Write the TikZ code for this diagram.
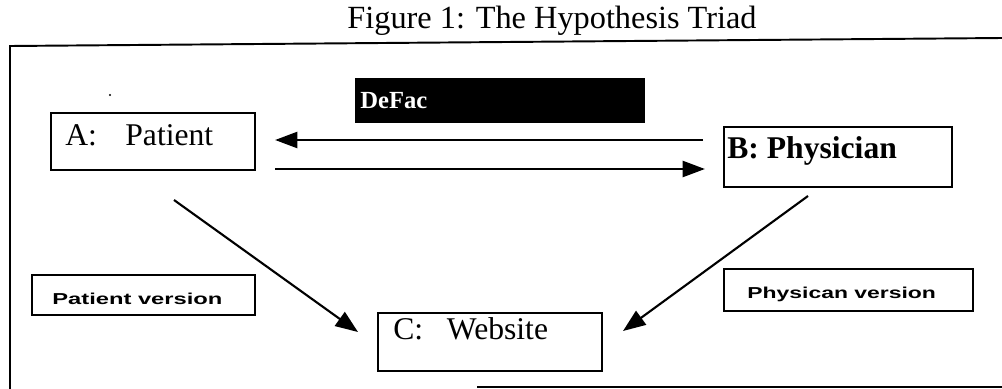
\documentclass[tikz,border=0pt]{standalone}
\usepackage{fontspec}
\setmainfont{Liberation Serif}
\newfontfamily\labelsans{Liberation Sans}
\usetikzlibrary{arrows.meta}
\tikzset{
  framebox/.style={draw, line width=1pt},
  lbl/.style={anchor=base west, inner sep=0pt, font=\fontsize{18}{20}\selectfont},
  verlbl/.style={anchor=base west, inner sep=0pt, font=\labelsans\bfseries\fontsize{9}{10}\selectfont},
  conn/.style={line width=1.2pt, -{Triangle[length=0.45cm,width=0.34cm]}},
  hconn/.style={line width=1.6pt, -{Triangle[length=0.45cm,width=0.32cm]}},
}
\begin{document}
\begin{tikzpicture}[x=0.02cm,y=-0.02cm]
\useasboundingbox (0,0) rectangle (1002,389);
% title
\node[anchor=base, inner sep=0pt, font=\fontsize{18.4}{20}\selectfont] (title) at (552,28) {Figure 1: The Hypothesis Triad};
% outer frame
\draw[line width=1.1pt] (1002,38) -- (10,46) -- (10,389);
\draw[line width=1.6pt] (477,387) -- (1002,387);
% stray dot
\fill (110,95) circle (1.2);
% black banner
\fill (355,78) rectangle (645,123);
\node[anchor=base west, inner sep=0pt, text=white, font=\bfseries\fontsize{14}{14}\selectfont] (banner) at (360,108) {DeFac};
% boxes
\draw[framebox] (51,113) rectangle (255,170);
\node[lbl] (A) at (65,145) {A:\hspace{0.9em}Patient};
\draw[framebox] (724,127) rectangle (952,187);
\node[lbl, font=\bfseries\fontsize{18}{20}\selectfont] (B) at (727,158) {B: Physician};
\draw[framebox] (378,313) rectangle (602,371);
\node[lbl] (C) at (393,339) {C:\hspace{0.75em}Website};
\draw[framebox] (32,275) rectangle (255,315);
\node[verlbl] (pv) at (52,304) {\scalebox{1.5}[1]{Patient version}};
\draw[framebox] (724,269) rectangle (973,311);
\node[verlbl] (dv) at (747,298) {\scalebox{1.45}[1]{Physican version}};
% connector ends
\coordinate (ba0) at (703,140);
\coordinate (ba1) at (275,140);
\coordinate (ab0) at (275,169);
\coordinate (ab1) at (705,169);
\coordinate (ac0) at (174,200);
\coordinate (ac1) at (358,332);
\coordinate (bc0) at (808,196);
\coordinate (bc1) at (623,331);
\draw[hconn] (ba0) -- (ba1);
\draw[hconn] (ab0) -- (ab1);
\draw[conn] (ac0) -- (ac1);
\draw[conn] (bc0) -- (bc1);
\end{tikzpicture}
\end{document}
